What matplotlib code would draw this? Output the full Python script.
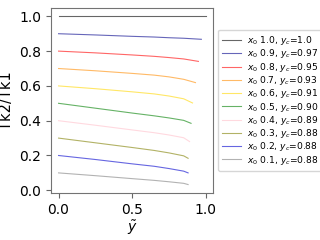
import matplotlib
matplotlib.use('Agg')
import matplotlib.pyplot as plt

x0_vals = [1.0, 0.9, 0.8, 0.7, 0.6, 0.5, 0.4, 0.3, 0.2, 0.1]
yc_labels = ['1.0', '0.97', '0.95', '0.93', '0.91', '0.90', '0.89', '0.88', '0.88', '0.88']
yc_vals = [1.0, 0.97, 0.95, 0.93, 0.91, 0.90, 0.89, 0.88, 0.88, 0.88]

# ratio read at y~ = 0, 0.25, 0.5, 0.65, 0.75, 0.85, yc
ratios = [
    [1.0, 1.0, 1.0, 1.0, 1.0, 1.0, 1.0],
    [0.90, 0.893, 0.885, 0.881, 0.877, 0.874, 0.868],
    [0.80, 0.790, 0.778, 0.770, 0.763, 0.755, 0.741],
    [0.70, 0.687, 0.672, 0.662, 0.652, 0.638, 0.619],
    [0.60, 0.584, 0.566, 0.554, 0.542, 0.526, 0.502],
    [0.50, 0.472, 0.444, 0.428, 0.416, 0.402, 0.385],
    [0.40, 0.374, 0.347, 0.331, 0.318, 0.302, 0.280],
    [0.30, 0.273, 0.246, 0.229, 0.215, 0.198, 0.184],
    [0.20, 0.177, 0.152, 0.138, 0.125, 0.110, 0.100],
    [0.10, 0.084, 0.067, 0.057, 0.049, 0.040, 0.033],
]
colors = ['k', 'darkblue', 'red', 'darkorange', 'gold', 'green', 'pink', 'olive', 'mediumblue', 'gray']

fig = plt.figure(figsize=(3.2, 2.4), dpi=100)
ax = fig.add_axes([0.16, 0.196, 0.506, 0.771])

for x0, lab, yc, r, c in zip(x0_vals, yc_labels, yc_vals, ratios, colors):
    xs = [0.0, 0.25, 0.5, 0.65, 0.75, 0.85, yc]
    ax.plot(xs, r, color=c, alpha=0.6, lw=0.8,
            label='$x_0$ %.1f, $y_c$=%s' % (x0, lab))

ax.set_xlabel(r'$\tilde{y}$', fontsize=10, labelpad=1)
ax.set_ylabel('Tk2/Tk1', fontsize=10.5)
ax.set_xticks([0.0, 0.5, 1.0])
ax.set_yticks([0.0, 0.2, 0.4, 0.6, 0.8, 1.0])
ax.tick_params(labelsize=10, color='0.4')
for s in ax.spines.values():
    s.set_color('0.45')
ax.legend(loc='center left', bbox_to_anchor=(1.0, 0.5), fontsize=6.6,
          labelspacing=0.03, handlelength=2.0, handletextpad=0.7,
          borderpad=0.5)

fig.savefig('out.png', dpi=100)
